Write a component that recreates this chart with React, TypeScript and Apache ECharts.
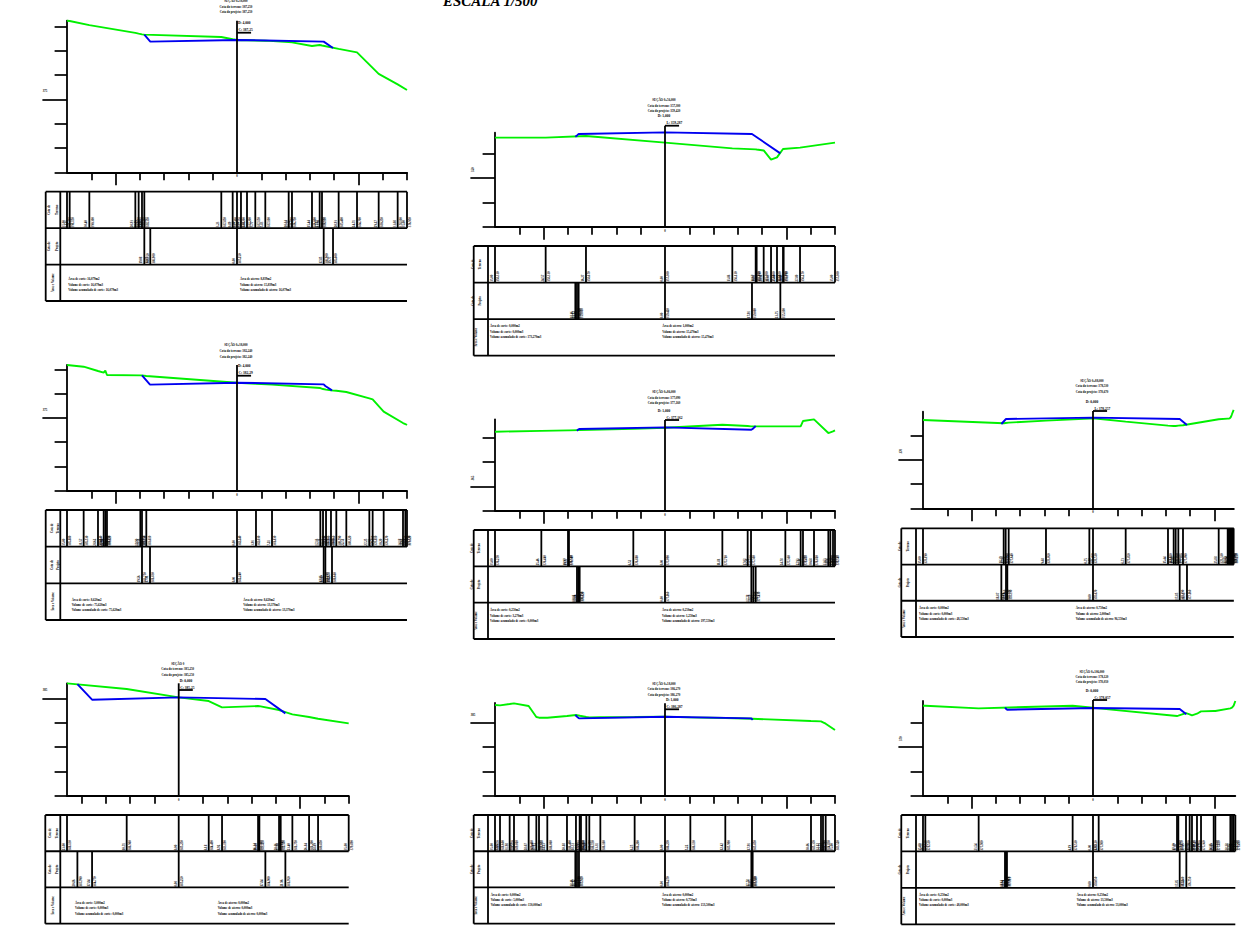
import React, { useEffect, useRef } from "react";
import * as echarts from "echarts";

type Pt = number[];

const terrain1: Pt[] = [[-35,391.2],[-34.45,391.15],[-30.4,390.3],[-20.93,388.7],[-20.25,388.55],[-19.56,388.4],[-19.08,388.35],[-3.23,387.85],[-0.89,387.4],[0,387.25],[0.82,387.2],[2.06,387.2],[3.77,387.15],[5.83,387.1],[10.64,386.8],[11.32,386.75],[15.44,386.0],[17.02,386.2],[17.5,386.1],[20.93,385.4],[24.71,384.7],[29.17,380.25],[33.08,378.1],[35,376.95]];
const project1: Pt[] = [[-19.08,388.35],[-17.85,386.9],[0,387.25],[17.85,386.9],[19.77,385.6]];

const terrain2: Pt[] = [[-35,358.33],[-24.57,358.33],[-16.27,358.67],[0,357.3],[13.86,356.13],[18.67,355.92],[18.87,355.89],[20.32,355.7],[21.83,353.8],[23.06,354.28],[24.3,355.99],[24.43,355.99],[27.8,356.27],[35,357.3]];
const project2: Pt[] = [[-18.46,358.53],[-18.12,358.8],[-17.78,359.08],[0,359.42],[17.91,359.08],[23.75,355.1]];

const terrain3: Pt[] = [[-35,385.88],[-31.57,385.53],[-28.62,384.64],[-27.45,384.3],[-27.11,384.71],[-26.77,383.82],[-19.9,383.75],[-19.56,383.75],[-18.67,383.61],[0,382.24],[3.91,382.03],[7.21,381.83],[17.16,381.14],[17.71,380.93],[18.33,380.8],[19.35,380.66],[20.45,380.59],[22.51,380.32],[27.25,379.01],[27.93,378.81],[30.2,376.27],[34.18,373.93],[34.66,373.73],[35,373.52]];
const project3: Pt[] = [[-19.56,383.75],[-17.91,381.83],[0,382.24],[17.85,381.89],[18.19,381.55],[19.56,380.66]];

const terrain4: Pt[] = [[-35,376.27],[-25.46,376.44],[-19.97,376.54],[-19.77,376.54],[-6.52,376.88],[0,377.09],[11.81,377.71],[17.02,377.43],[17.71,377.36],[24.78,377.36],[27.93,377.36],[28.41,378.46],[30.68,378.81],[33.63,376.0],[34.04,376.13],[34.59,376.33],[35,376.54]];
const project4: Pt[] = [[-18.12,376.47],[-17.84,376.75],[-17.57,376.82],[0,377.16],[17.78,376.68],[18.19,376.95],[18.67,377.43]];

const terrain5: Pt[] = [[-35,378.19],[-18.39,377.5],[-17.98,377.57],[-17.36,377.64],[-9.68,378.05],[-0.75,378.46],[0,378.53],[6.73,377.85],[15.44,377.02],[16.61,376.95],[17.02,376.95],[17.57,377.02],[18.53,377.09],[25.88,378.33],[27.73,378.46],[27.93,378.46],[28.14,378.53],[28.35,378.74],[28.55,379.2],[28.76,379.77],[28.96,380.25]];
const project5: Pt[] = [[-18.87,377.36],[-17.91,378.39],[-17.64,378.39],[0,378.67],[17.85,378.39],[19.35,377.16]];

const terrain6: Pt[] = [[-23,388.13],[-10.71,386.96],[0,385.25],[6.18,384.49],[8.92,383.19],[16.34,383.46],[16.61,383.43],[20.66,382.64],[21.0,382.5],[23.4,381.75],[26.84,381.2],[28.69,380.85],[35,379.89]];
const project6: Pt[] = [[-20.86,387.99],[-17.84,384.77],[0,385.25],[17.84,384.9],[21.96,381.95]];

const terrain7: Pt[] = [[-35,388.67],[-33.97,388.6],[-31.98,388.87],[-31.09,389.01],[-28.07,388.46],[-26.49,386.2],[-25.94,386.06],[-24.23,386.06],[-20.18,386.4],[-18.33,386.61],[-17.57,386.47],[-17.3,386.4],[-16.2,386.2],[-15.58,386.13],[-13.31,386.16],[-6.25,386.2],[0,386.27],[5.22,386.13],[12.42,385.99],[17.91,385.85],[30.06,385.37],[32.12,385.3],[32.53,385.1],[33.08,384.83],[35,383.52]];
const project7: Pt[] = [[-18.46,386.61],[-18.12,386.27],[-17.71,385.92],[0,386.27],[17.78,385.92],[18.05,385.58]];

const terrain8: Pt[] = [[-35,378.53],[-34.52,378.53],[-23.54,377.98],[-4.19,378.53],[0,378.12],[1.17,377.98],[17.3,376.4],[17.57,376.47],[19.15,377.02],[19.9,376.75],[20.38,376.54],[21.41,376.88],[22.24,377.36],[24.85,377.43],[25.19,377.43],[28.28,377.98],[28.62,378.12],[28.96,378.53],[29.31,379.49]];
const project8: Pt[] = [[-18.12,378.12],[-17.91,377.91],[-17.71,377.71],[0,378.05],[17.85,377.84],[19.22,376.75]];

const terrains = [terrain1, terrain2, terrain3, terrain4, terrain5, terrain6, terrain7, terrain8];
const projects = [project1, project2, project3, project4, project5, project6, project7, project8];

const sectionTitles = ["SEÇÃO 0+38,000", "SEÇÃO 0+56,000", "SEÇÃO 0+38,000", "SEÇÃO 0+86,000", "SEÇÃO 0+88,000", "SEÇÃO 0", "SEÇÃO 0+18,000", "SEÇÃO 0+106,000"];
const terrainCotas = ["387,250", "357,300", "382,240", "377,090", "378,530", "385,250", "386,270", "378,120"];
const projectCotas = ["387,250", "359,420", "382,240", "377,160", "378,670", "385,250", "386,270", "378,050"];
const offsetNotes = ["D: 4,000", "D: 1,000", "D: 4,000", "D: 1,000", "D: 0,000", "D: 0,000", "D: 1,000", "D: 0,000"];
const cotaNotes = ["C: 387,25", "L: 359,287", "C: 382,29", "C: 377,162", "L: 378,257", "C: 385,25", "C: 386,287", "C: 378,057"];
const cutAreas = ["16,079", "0,000", "8,620", "0,250", "0,000", "3,000", "0,000", "0,250"];
const cutVolumes = ["16,079", "0,000", "75,620", "3,270", "0,000", "0,000", "5,000", "0,000"];
const cutTotals = ["16,079", "173,270", "75,620", "0,000", "48,550", "0,000", "150,000", "48,000"];
const fillAreas = ["8,839", "1,000", "8,620", "0,250", "0,750", "0,000", "0,000", "0,250"];
const fillVolumes = ["15,839", "15,470", "13,370", "1,250", "2,000", "0,000", "0,750", "13,500"];
const fillTotals = ["16,079", "15,470", "13,370", "197,550", "96,550", "0,000", "153,500", "53,000"];

const elevationLabels = ["375", "350", "375", "365", "370", "385", "385", "370"];

const K = 4.857;
type Layout = {
  left: number; xMin: number; xMax: number; baseline: number; base: number; axisTop: number; majorStep: number;
  tableTop: number; tableBottom: number; tableLeft: number; col: number;
  titleY: number[]; noteY: number[]; noteAlign: string; noteBarY: number; lineTop: number;
  labelX: number[]; textX: number[]; textY: number[]; rotateMajor: number;
};

const layouts: Layout[] = [
  { left: 67, xMin: -35, xMax: 35, baseline: 172.3, base: 360, axisTop: 20.7, majorStep: 15, tableTop: 191.7, tableBottom: 301, tableLeft: 45.7, col: 60.3, titleY: [1, 6.7, 11.7], noteY: [23, 30], noteAlign: "left", noteBarY: 32.7, lineTop: 20.7, labelX: [49, 56.7, 52.7], textX: [68.3, 240], textY: [279, 284.3, 289.7], rotateMajor: 0 },
  { left: 495, xMin: -35, xMax: 35, baseline: 226.7, base: 340, axisTop: 132.7, majorStep: 10, tableTop: 246, tableBottom: 355.7, tableLeft: 473.7, col: 488, titleY: [99.7, 105.7, 110.7], noteY: [116, 122.7], noteAlign: "center", noteBarY: 125.7, lineTop: 125.7, labelX: [472.3, 480, 475.7], textX: [490, 662.3], textY: [325.7, 331.7, 336.7], rotateMajor: 90 },
  { left: 67, xMin: -35, xMax: 35, baseline: 490.7, base: 360, axisTop: 365, majorStep: 15, tableTop: 510, tableBottom: 620, tableLeft: 45.7, col: 60.3, titleY: [344.7, 350.7, 356.7], noteY: [366, 373.3], noteAlign: "left", noteBarY: 375.7, lineTop: 365, labelX: [52, 57.7, 52.7], textX: [71.7, 243.3], textY: [600, 605, 610], rotateMajor: 0 },
  { left: 495, xMin: -35, xMax: 35, baseline: 510.7, base: 360, axisTop: 419.3, majorStep: 5, tableTop: 530, tableBottom: 639, tableLeft: 473.7, col: 488, titleY: [391.3, 397.7, 402.7], noteY: [411.3, 418.3], noteAlign: "center", noteBarY: 420, lineTop: 420, labelX: [472, 479, 475.7], textX: [490, 662], textY: [610, 616, 621], rotateMajor: 90 },
  { left: 923, xMin: -35, xMax: 29, baseline: 508.3, base: 360, axisTop: 411.7, majorStep: 10, tableTop: 528.3, tableBottom: 637, tableLeft: 901.3, col: 916, titleY: [380.3, 385.7, 391.7], noteY: [401.7, 409], noteAlign: "center", noteBarY: 411, lineTop: 411, labelX: [899.3, 907.3, 903.3], textX: [919, 1075.7], textY: [607.7, 613.3, 619], rotateMajor: 90 },
  { left: 67, xMin: -23, xMax: 35, baseline: 795.7, base: 365, axisTop: 683.3, majorStep: 20, tableTop: 815, tableBottom: 923.7, tableLeft: 45.3, col: 60.3, titleY: [663.3, 668.7, 674.7], noteY: [681, 688], noteAlign: "left", noteBarY: 690, lineTop: 683.3, labelX: [50, 56.7, 52.7], textX: [75, 217.7], textY: [902.7, 908, 914], rotateMajor: 0 },
  { left: 495, xMin: -35, xMax: 35, baseline: 795.7, base: 370, axisTop: 703, majorStep: 15, tableTop: 815, tableBottom: 923.7, tableLeft: 473.7, col: 488, titleY: [683.3, 689, 695], noteY: [700.3, 707.3], noteAlign: "left", noteBarY: 709.3, lineTop: 703.3, labelX: [472, 479, 475.7], textX: [490.7, 662], textY: [895, 900, 905], rotateMajor: 0 },
  { left: 923, xMin: -35, xMax: 29.3, baseline: 795.7, base: 360, axisTop: 701, majorStep: 10, tableTop: 815, tableBottom: 924.3, tableLeft: 901.3, col: 916, titleY: [671.3, 677, 681.7], noteY: [691, 697.7], noteAlign: "center", noteBarY: 700, lineTop: 700, labelX: [899.3, 907.3, 903.3], textX: [919, 1076.7], textY: [894.3, 900, 905], rotateMajor: 90 },
];

const SERIF = '"Liberation Serif", serif';
const STROKE = 1.8;
const comma = (v: number, d: number) => Math.abs(v).toFixed(d).replace(".", ",");

function multiplesOf5(a: number, b: number, skip: number[] = []) {
  const out: number[] = [];
  for (let v = Math.ceil(a / 5) * 5; v <= b; v += 5) if (!skip.includes(v)) out.push(v);
  return out;
}

function stationRenderer(rows: any[]) {
  return (params: any, api: any) => {
    const r = rows[params.dataIndex];
    const a = api.coord([r.x, r.row]);
    const b = api.coord([r.x, r.row + 1]);
    const label = (dx: number, text: string) => ({
      type: "text",
      x: a[0] + dx,
      y: b[1] - 1,
      rotation: Math.PI / 2,
      style: { text, fontSize: 3.1, fontWeight: "bold", fontFamily: SERIF, fill: "#000", align: "left", verticalAlign: "middle" },
    });
    return {
      type: "group",
      children: [
        { type: "line", shape: { x1: a[0], y1: a[1], x2: b[0], y2: b[1] }, style: { stroke: "#000", lineWidth: STROKE } },
        label(-3.4, r.left),
        label(3, r.right),
      ],
    };
  };
}

function segmentRenderer(segs: number[][]) {
  return (params: any, api: any) => {
    const s = segs[params.dataIndex];
    const a = api.coord([s[0], s[1]]);
    const b = api.coord([s[2], s[3]]);
    return { type: "line", shape: { x1: a[0], y1: a[1], x2: b[0], y2: b[1] }, style: { stroke: "#000", lineWidth: STROKE } };
  };
}

function buildOption() {
  const grid: any[] = [], xAxis: any[] = [], yAxis: any[] = [], series: any[] = [], graphic: any[] = [];
  const txt = (x: number, y: number, text: string, fontSize: number, align = "center", rotation = 0, style: any = {}) =>
    graphic.push({ type: "text", x, y, rotation, silent: true, style: { text, fontSize, fontWeight: "bold", fontFamily: SERIF, fill: "#000", align, verticalAlign: "middle", ...style } });

  layouts.forEach((p, i) => {
    const terrain = terrains[i], project = projects[i];
    const center = p.left - p.xMin * K;
    const right = center + p.xMax * K;
    const top = p.base + (p.baseline - p.axisTop) / K;
    const major = p.base + p.majorStep;
    const g = grid.length;
    grid.push({ left: p.left, top: p.axisTop, width: right - p.left, height: p.baseline - p.axisTop });
    grid.push({ left: p.tableLeft, top: p.tableTop, width: right - p.tableLeft, height: p.tableBottom - p.tableTop });

    const xTicks = multiplesOf5(p.xMin + 1, p.xMax, [0, -25, 25]);
    const xIdx = xAxis.length, yIdx = yAxis.length;
    const axisLine = { show: true, onZero: false, lineStyle: { color: "#000", width: STROKE } };
    const tickLine = { color: "#000", width: 1.7 };
    xAxis.push({
      gridIndex: g, type: "value", min: p.xMin, max: p.xMax, splitLine: { show: false },
      axisLine,
      axisTick: { show: true, length: 8, customValues: xTicks, lineStyle: tickLine },
      axisLabel: { show: true, customValues: [0], margin: 2, fontSize: 3, fontWeight: "bold", fontFamily: SERIF, color: "#000", showMinLabel: true, showMaxLabel: true },
    });
    xAxis.push({
      gridIndex: g, type: "value", min: p.xMin, max: p.xMax, position: "bottom", splitLine: { show: false },
      axisLine: { show: false, onZero: false },
      axisTick: { show: true, length: 13, customValues: [-25, 25].filter((v) => v > p.xMin && v < p.xMax), lineStyle: tickLine },
      axisLabel: { show: false },
    });
    yAxis.push({
      gridIndex: g, type: "value", min: p.base, max: top, splitLine: { show: false },
      axisLine,
      axisTick: { show: true, length: 12.4, customValues: multiplesOf5(p.base, top).filter((v) => v !== major), lineStyle: tickLine },
      axisLabel: { show: false },
    });
    yAxis.push({
      gridIndex: g, type: "value", min: p.base, max: top, position: "left", splitLine: { show: false },
      axisLine: { show: false, onZero: false },
      axisTick: { show: true, length: 24.6, customValues: [major], lineStyle: tickLine },
      axisLabel: { show: false },
    });
    // table axes
    xAxis.push({ gridIndex: g + 1, type: "value", min: (p.tableLeft - center) / K, max: p.xMax, show: false });
    yAxis.push({ gridIndex: g + 1, type: "value", min: 0, max: 3, inverse: true, show: false });

    const plotAxes = { xAxisIndex: xIdx, yAxisIndex: yIdx };
    const barY = p.base + (p.baseline - p.noteBarY) / K;
    const lineTopY = p.base + (p.baseline - p.lineTop) / K;

    series.push({ type: "line", ...plotAxes, data: terrain, showSymbol: false, symbol: "none", clip: false, z: 3, lineStyle: { color: "#00f000", width: 1.9 }, silent: true });
    series.push({ type: "line", ...plotAxes, data: project, showSymbol: false, symbol: "none", clip: false, z: 4, lineStyle: { color: "#0000f0", width: 1.9 }, silent: true });
    series.push({ type: "line", ...plotAxes, data: [[0, p.base], [0, lineTopY]], symbol: "none", clip: false, z: 5, lineStyle: { color: "#000", width: STROKE }, silent: true });
    series.push({ type: "line", ...plotAxes, data: [[0, barY], [2.9, barY]], symbol: "none", clip: false, z: 5, lineStyle: { color: "#000", width: STROKE }, silent: true });

    // table
    const tableAxes = { xAxisIndex: xIdx + 2, yAxisIndex: yIdx + 2 };
    const tMin = (p.tableLeft - center) / K;
    const colX = (p.col - center) / K;
    const frame = [[tMin, 0, p.xMax, 0], [tMin, 1, p.xMax, 1], [tMin, 2, p.xMax, 2], [tMin, 3, p.xMax, 3], [tMin, 0, tMin, 3], [colX, 0, colX, 3]];
    series.push({ type: "custom", ...tableAxes, data: frame, renderItem: segmentRenderer(frame), clip: false, silent: true, z: 4 });
    const rows = [
      ...terrain.map(([x, y]) => ({ x, row: 0, left: comma(x, 2), right: comma(y, 3) })),
      ...project.map(([x, y]) => ({ x, row: 1, left: comma(x, 2), right: comma(y, 3) })),
    ];
    series.push({ type: "custom", ...tableAxes, data: rows.map((r) => [r.x, r.row]), renderItem: stationRenderer(rows), clip: false, silent: true, z: 4 });

    // texts
    const R = Math.PI / 2;
    txt(p.left - 22, p.baseline - p.majorStep * K - 8.5, elevationLabels[i], 3, "center", p.rotateMajor ? R : 0);
    txt(center - 1, p.titleY[0], sectionTitles[i], 3.1);
    txt(center - 1, p.titleY[1], "Cota do terreno: " + terrainCotas[i], 3.1);
    txt(center - 1, p.titleY[2], "Cota do projeto: " + projectCotas[i], 3.1);
    const noteLeft = p.noteAlign === "left";
    txt(noteLeft ? center + 1 : center - 1, p.noteY[0], offsetNotes[i], 3.5, noteLeft ? "left" : "center");
    txt(center + 1.5, p.noteY[1], cotaNotes[i], 3.5, "left");

    const rowH = (p.tableBottom - p.tableTop) / 3;
    txt(p.labelX[0], p.tableTop + rowH / 2, "Cota de", 3, "center", R);
    txt(p.labelX[1], p.tableTop + rowH / 2, "Terreno", 3, "center", R);
    txt(p.labelX[0], p.tableTop + rowH * 1.5, "Cota de", 3, "center", R);
    txt(p.labelX[1], p.tableTop + rowH * 1.5, "Projeto", 3, "center", R);
    txt(p.labelX[2], p.tableTop + rowH * 2.5, "Área e Volume", 3, "center", R);

    txt(p.textX[0], p.textY[0], `Área de corte: ${cutAreas[i]}m2`, 3, "left");
    txt(p.textX[0], p.textY[1], `Volume de corte: ${cutVolumes[i]}m3`, 3, "left");
    txt(p.textX[0], p.textY[2], `Volume acumulado de corte: ${cutTotals[i]}m3`, 3, "left");
    txt(p.textX[1], p.textY[0], `Área de aterro: ${fillAreas[i]}m2`, 3, "left");
    txt(p.textX[1], p.textY[1], `Volume de aterro: ${fillVolumes[i]}m3`, 3, "left");
    txt(p.textX[1], p.textY[2], `Volume acumulado de aterro: ${fillTotals[i]}m3`, 3, "left");
  });

  graphic.push({ type: "text", x: 443, y: 8.5, silent: true, style: { text: "ESCALA 1/500", fontSize: 15, fontWeight: "bold", fontStyle: "italic", fontFamily: SERIF, fill: "#000", align: "left", verticalAlign: "bottom" } });

  return { animation: false, backgroundColor: "#fff", grid, xAxis, yAxis, series, graphic, tooltip: { show: false } };
}

export default function App() {
  const ref = useRef<HTMLDivElement>(null);
  useEffect(() => {
    document.body.style.margin = "0";
    const chart = echarts.init(ref.current!, undefined, { renderer: "svg" });
    chart.setOption(buildOption() as any);
    return () => chart.dispose();
  }, []);
  return <div ref={ref} style={{ width: 1241, height: 944 }} />;
}
